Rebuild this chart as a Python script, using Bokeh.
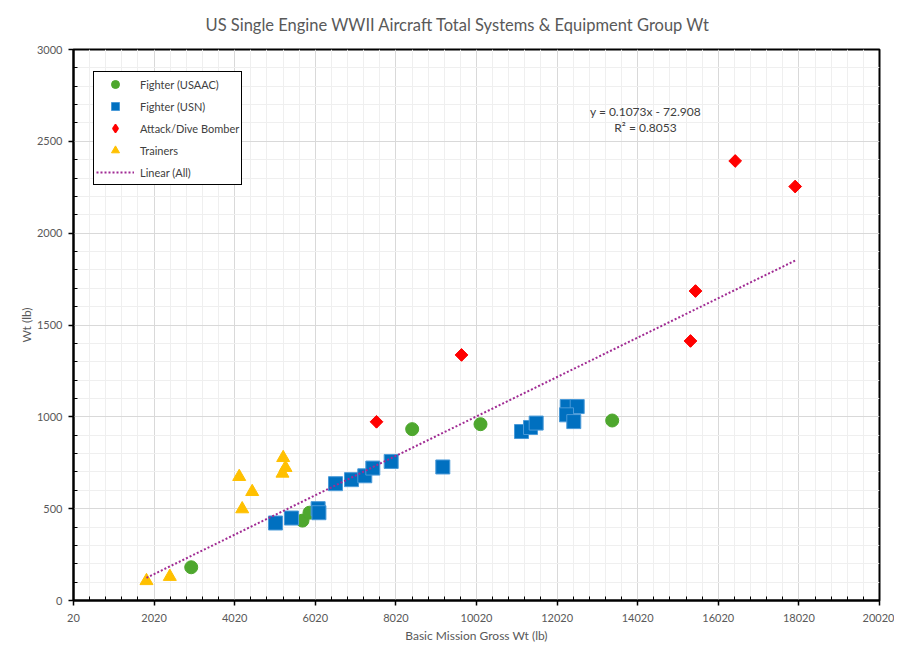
import numpy as np
from bokeh.plotting import figure
from bokeh.models import Range1d, FixedTicker, Legend, LegendItem, Label
from bokeh.embed import file_html
from bokeh.resources import INLINE

# ---- data ----
usaac_x = [2941, 5702, 5876, 8424, 10119, 13387]
usaac_y = [181, 435, 478, 933, 960, 980]

usn_x = [5032, 5429, 6090, 6110, 6521, 6918, 7248, 7447, 7903, 9184,
         11137, 11360, 11501, 12271, 12519, 12253, 12434]
usn_y = [422, 449, 500, 478, 636, 658, 679, 721, 757, 727,
         920, 942, 966, 1056, 1056, 1011, 974]

attack_x = [7539, 9648, 15330, 15454, 16439, 17928]
attack_y = [973, 1337, 1413, 1685, 2393, 2254]

trainer_x = [1831, 2410, 4132, 4454, 4206, 5223, 5281, 5206]
trainer_y = [107, 130, 674, 592, 498, 777, 723, 692]

trend_slope = 0.1073
trend_intercept = -72.908
trend_r2 = 0.8053

x_ticks = [20, 2020, 4020, 6020, 8020, 10020, 12020, 14020, 16020, 18020, 20020]
y_ticks = [0, 500, 1000, 1500, 2000, 2500, 3000]

title_text = "US Single Engine WWII Aircraft Total Systems & Equipment Group Wt"
x_label = "Basic Mission Gross Wt (lb)"
y_label = "Wt (lb)"

# ---- derived ----
all_x = usaac_x + usn_x + attack_x + trainer_x
trend_x = [min(all_x), max(all_x)]
trend_y = [trend_slope * v + trend_intercept for v in trend_x]
x_minor = [t + 400 * k for t in x_ticks[:-1] for k in range(1, 5)]
y_minor = [t + 100 * k for t in y_ticks[:-1] for k in range(1, 5)]

FONT = "Lato"
GRAY = "#595959"

p = figure(width=894, height=645,
           x_range=Range1d(20, 20020), y_range=Range1d(0, 3000),
           output_backend="svg", toolbar_location=None,
           min_border_left=73, min_border_right=15,
           min_border_top=49, min_border_bottom=44,
           background_fill_color="white", border_fill_color="white")

p.title.text = title_text
p.title.align = "left"
p.title.offset = 132
p.title.vertical_align = "top"
p.title.standoff = 25
p.title.text_font = FONT
p.title.text_font_size = "16.5px"
p.title.text_font_style = "normal"
p.title.text_color = GRAY

p.outline_line_color = "black"
p.outline_line_width = 2
p.outline_line_alpha = 1

p.xaxis.ticker = FixedTicker(ticks=x_ticks, minor_ticks=x_minor)
p.yaxis.ticker = FixedTicker(ticks=y_ticks, minor_ticks=y_minor)
p.xaxis.axis_label = x_label
p.yaxis.axis_label = y_label

for ax in (p.xaxis[0], p.yaxis[0]):
    ax.axis_line_color = "black"
    ax.axis_line_width = 2
    ax.major_tick_line_color = "black"
    ax.major_tick_line_width = 1.5
    ax.major_tick_out = 5
    ax.major_tick_in = 0
    ax.minor_tick_line_color = "black"
    ax.minor_tick_line_width = 1
    ax.minor_tick_in = 4
    ax.minor_tick_out = 0
    ax.major_label_text_font = FONT
    ax.major_label_text_font_size = "11px"
    ax.major_label_text_color = GRAY
    ax.axis_label_text_font = FONT
    ax.axis_label_text_font_size = "12px"
    ax.axis_label_text_font_style = "normal"
    ax.axis_label_text_color = GRAY

p.xaxis[0].major_label_standoff = 8
p.xaxis[0].axis_label_standoff = 3
p.yaxis[0].major_label_standoff = 6
p.yaxis[0].axis_label_standoff = 0

for g in (p.xgrid[0], p.ygrid[0]):
    g.grid_line_color = "#d9d9d9"
    g.grid_line_width = 1
    g.minor_grid_line_color = "#efefef"
    g.minor_grid_line_width = 1

USAAC_C, USN_C, ATTACK_C, TRAINER_C = "#4EA72E", "#0070C0", "#FF0000", "#FFC000"

r_usaac = p.scatter(usaac_x, usaac_y, marker="circle", size=13,
                    fill_color=USAAC_C, line_color=USAAC_C)
r_usn = p.scatter(usn_x, usn_y, marker="square", size=14,
                  fill_color=USN_C, line_color="#4a9ad8", line_width=1)
# diamond glyph (used for the legend key; sits under the rotated squares)
r_attack_key = p.scatter(attack_x, attack_y, marker="diamond", size=11,
                         fill_color=ATTACK_C, line_color=ATTACK_C, line_width=1.5)
r_attack = p.scatter(attack_x, attack_y, marker="square", angle=np.pi / 4, size=9,
                     fill_color=ATTACK_C, line_color=ATTACK_C)
r_trainer = p.scatter(trainer_x, trainer_y, marker="triangle", size=13,
                      fill_color=TRAINER_C, line_color=TRAINER_C)
r_trend = p.line(trend_x, trend_y, line_color="#A02B93", line_width=2,
                 line_dash="2 2")

legend = Legend(items=[
    LegendItem(label="Fighter (USAAC)", renderers=[r_usaac]),
    LegendItem(label="Fighter (USN)", renderers=[r_usn]),
    LegendItem(label="Attack/Dive Bomber", renderers=[r_attack_key]),
    LegendItem(label="Trainers", renderers=[r_trainer]),
    LegendItem(label="Linear (All)", renderers=[r_trend]),
], location=(20, 415), padding=2, spacing=2, glyph_height=20, label_height=20,
    glyph_width=38, label_standoff=6, margin=0,
    border_line_color="black", border_line_width=1, border_line_alpha=1,
    background_fill_color="white", background_fill_alpha=1,
    label_text_font=FONT, label_text_font_size="11px", label_text_color="#404040")
p.add_layout(legend)

eq_text = f"y = {trend_slope}x - {abs(trend_intercept)}"
r2_text = f"R\u00b2 = {trend_r2}"
p.add_layout(Label(x=14213, y=2663, text=eq_text, text_align="center",
                   text_baseline="middle", text_font=FONT, text_font_size="12px",
                   text_color="#404040"))
p.add_layout(Label(x=14213, y=2576, text=r2_text, text_align="center",
                   text_baseline="middle", text_font=FONT, text_font_size="12px",
                   text_color="#404040"))

open("out.html", "w").write(file_html(p, INLINE))
